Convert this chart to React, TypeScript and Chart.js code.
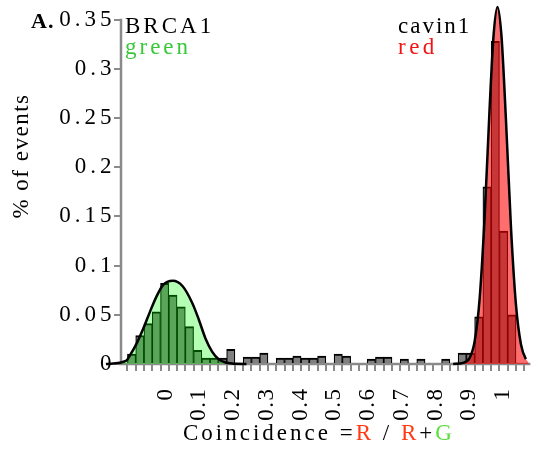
import React, { useEffect, useRef } from 'react';
import { Chart, registerables } from 'chart.js';

Chart.register(...registerables);

// ---------- data ----------
const binCenters = [
  -0.1125, -0.0875, -0.0625, -0.0375, -0.0125,
  0.0125, 0.0375, 0.0625, 0.0875, 0.1125,
  0.1375, 0.1625, 0.1875, 0.2125, 0.2375,
  0.2625, 0.2875, 0.3125, 0.3375, 0.3625,
  0.3875, 0.4125, 0.4375, 0.4625, 0.4875,
  0.5125, 0.5375, 0.5625, 0.5875, 0.6125,
  0.6375, 0.6625, 0.6875, 0.7125, 0.7375,
  0.7625, 0.7875, 0.8125, 0.8375, 0.8625,
  0.8875, 0.9125, 0.9375, 0.9625, 0.9875,
  1.0125, 1.0375,
];

const eventFraction = [
  0.010, 0.029, 0.041, 0.053, 0.082,
  0.070, 0.058, 0.038, 0.014, 0.006,
  0.006, 0.006, 0.015, 0, 0.007,
  0.007, 0.011, 0, 0.006, 0.006,
  0.008, 0.006, 0.006, 0.008, 0,
  0.010, 0.008, 0, 0, 0.005,
  0.007, 0.007, 0, 0.005, 0,
  0.005, 0, 0, 0.005, 0,
  0.011, 0.011, 0.048, 0.180, 0.328,
  0.135, 0.050,
];

const greenFitX = [-0.19, -0.128, -0.117, -0.097, -0.077, -0.057, -0.038, -0.018, 0.012, 0.042, 0.071, 0.091, 0.111, 0.131, 0.151, 0.175, 0.2, 0.235];
const greenFitY = [0, 0.0035, 0.009, 0.021, 0.036, 0.053, 0.068, 0.080, 0.0845, 0.079, 0.062, 0.045, 0.026, 0.0126, 0.0048, 0.0012, 0.0002, 0];

const redFitX = [0.86, 0.89, 0.91, 0.925, 0.94, 0.955, 0.97, 0.982, 0.994, 1.006, 1.02, 1.035, 1.05, 1.065, 1.08, 1.095, 1.125];
const redFitY = [0, 0.0012, 0.0063, 0.023, 0.066, 0.148, 0.258, 0.333, 0.363, 0.334, 0.246, 0.138, 0.06, 0.02, 0.005, 0.001, 0];

const xTickMarks = [-0.1375, ...binCenters, 1.0625];
const xTickValues = [0, 0.1, 0.2, 0.3, 0.4, 0.5, 0.6, 0.7, 0.8, 0.9, 1];
const xTickLabels = ['0', '0.1', '0.2', '0.3', '0.4', '0.5', '0.6', '0.7', '0.8', '0.9', '1'];
const yTickValues = [0, 0.05, 0.1, 0.15, 0.2, 0.25, 0.3, 0.35];
const yTickLabels = ['0', '0.05', '0.1', '0.15', '0.2', '0.25', '0.3', '0.35'];

const panelLabel = 'A.';
const yTitle = '% of events';
const greenName = 'BRCA1';
const greenWord = 'green';
const redName = 'cavin1';
const redWord = 'red';
const xTitleParts = [
  { text: 'Coincidence =', color: '#000000' },
  { text: 'R', color: '#ff3a14' },
  { text: ' / ', color: '#000000' },
  { text: 'R', color: '#ff3a14' },
  { text: '+', color: '#000000' },
  { text: 'G', color: '#5ade3c' },
];

// ---------- styling ----------
const X_MIN = -0.1319;
const X_MAX = 1.075;
const Y_MAX = 0.37;
const AXIS_GRAY = '#8a8a8a';
const SERIF = '"Liberation Serif", "Times New Roman", serif';

function spacedLabels(scale: any, spacing: string) {
  if (scale.__spaced) return;
  scale.__spaced = true;
  const orig = scale.drawLabels.bind(scale);
  scale.drawLabels = (area: any) => {
    const c = scale.ctx;
    const prev = c.letterSpacing;
    c.letterSpacing = spacing;
    orig(area);
    c.letterSpacing = prev;
  };
}

const textPlugin = {
  id: 'textAndAxes',
  beforeDraw(chart: any) {
    chart.ctx.letterSpacing = '0px';
  },
  beforeDatasetsDraw(chart: any) {
    const ctx = chart.ctx;
    const xs = chart.scales.x;
    const ys = chart.scales.y;
    const y0 = ys.getPixelForValue(0);
    const yTop = ys.getPixelForValue(yTickValues[yTickValues.length - 1]);
    ctx.save();
    ctx.strokeStyle = AXIS_GRAY;
    ctx.lineWidth = 2.5;
    ctx.beginPath();
    ctx.moveTo(xs.left - 2, y0);
    ctx.lineTo(xs.right + 2, y0);
    ctx.moveTo(xs.left, y0);
    ctx.lineTo(xs.left, yTop - 1);
    ctx.stroke();
    ctx.restore();
  },
  afterDraw(chart: any) {
    const ctx = chart.ctx;
    const area = chart.chartArea;
    ctx.save();
    ctx.textAlign = 'left';
    ctx.textBaseline = 'alphabetic';
    ctx.fillStyle = '#000';
    ctx.letterSpacing = '1px';
    ctx.font = `bold 22px ${SERIF}`;
    ctx.fillText(panelLabel, 31, 28);

    ctx.font = `23px ${SERIF}`;
    ctx.letterSpacing = '3px';
    ctx.fillText(greenName, area.left + 4, 33);
    ctx.fillStyle = '#38c838';
    ctx.fillText(greenWord, area.left + 4, 54);
    ctx.fillStyle = '#000';
    ctx.letterSpacing = '2px';
    ctx.fillText(redName, 398, 33);
    ctx.fillStyle = '#f01414';
    ctx.letterSpacing = '3.5px';
    ctx.fillText(redWord, 398, 54);

    ctx.letterSpacing = '3px';
    let x = 183;
    for (const p of xTitleParts) {
      ctx.fillStyle = p.color;
      ctx.fillText(p.text, x, 440);
      x += ctx.measureText(p.text).width;
    }

    ctx.fillStyle = '#000';
    ctx.letterSpacing = '1.5px';
    ctx.translate(28, 156);
    ctx.rotate(-Math.PI / 2);
    ctx.textAlign = 'center';
    ctx.fillText(yTitle, 0, 0);
    ctx.restore();
  },
};

export default function App() {
  const ref = useRef<HTMLCanvasElement>(null);

  useEffect(() => {
    document.body.style.margin = '0';
    const canvas = ref.current;
    if (!canvas) return;

    const tickFont = { family: SERIF, size: 23 };

    const chart = new Chart(canvas, {
      data: {
        datasets: [
          {
            type: 'line',
            label: 'green fit',
            xAxisID: 'x',
            data: greenFitX.map((v, i) => ({ x: v, y: greenFitY[i] })),
            borderColor: '#000',
            borderWidth: 2.5,
            backgroundColor: 'rgba(0,255,0,0.29)',
            fill: 'origin',
            pointRadius: 0,
            cubicInterpolationMode: 'monotone',
            clip: false,
            order: 1,
          },
          {
            type: 'line',
            label: 'red fit',
            xAxisID: 'x',
            data: redFitX.map((v, i) => ({ x: v, y: redFitY[i] })),
            borderColor: '#000',
            borderWidth: 2.5,
            backgroundColor: 'rgba(255,0,0,0.57)',
            fill: 'origin',
            pointRadius: 0,
            cubicInterpolationMode: 'monotone',
            clip: false,
            order: 1,
          },
          {
            type: 'bar',
            label: 'events',
            xAxisID: 'x',
            data: binCenters.map((v, i) => ({ x: v, y: eventFraction[i] })),
            backgroundColor: '#808080',
            borderColor: '#000',
            borderWidth: { top: 2, left: 1.2, right: 1.2, bottom: 0 },
            borderSkipped: false,
            categoryPercentage: 1,
            barPercentage: 1,
            order: 2,
          },
        ],
      } as any,
      options: {
        responsive: false,
        animation: false,
        events: [],
        layout: { padding: { left: 0, top: 0, right: 10.6, bottom: 0 } },
        plugins: { legend: { display: false }, tooltip: { enabled: false } },
        scales: {
          x: {
            type: 'linear',
            position: 'bottom',
            min: X_MIN,
            max: X_MAX,
            afterBuildTicks: (s: any) => { s.ticks = xTickMarks.map((v) => ({ value: v })); },
            afterFit: (s: any) => { s.height = 7; s.paddingLeft = 0; s.paddingRight = 0; },
            ticks: { display: false },
            grid: { display: true, drawOnChartArea: false, drawTicks: true, tickLength: 7, tickWidth: 2, tickColor: AXIS_GRAY, lineWidth: 2, color: AXIS_GRAY },
            border: { display: false },
          },
          xl: {
            type: 'linear',
            position: 'bottom',
            weight: 1,
            min: X_MIN,
            max: X_MAX,
            afterBuildTicks: (s: any) => { s.ticks = xTickValues.map((v) => ({ value: v })); },
            afterFit: (s: any) => {
              s.height = 81; s.paddingLeft = 0; s.paddingRight = 0;
              spacedLabels(s, '1.5px');
            },
            ticks: {
              display: true,
              autoSkip: false,
              minRotation: 90,
              maxRotation: 90,
              padding: 8.5,
              color: '#000',
              font: tickFont,
              callback: (_v: any, i: number) => xTickLabels[i],
            },
            grid: { display: false },
            border: { display: false },
          },
          y: {
            type: 'linear',
            position: 'left',
            min: 0,
            max: Y_MAX,
            afterBuildTicks: (s: any) => { s.ticks = yTickValues.map((v) => ({ value: v })); },
            afterFit: (s: any) => {
              s.width = 121; s.paddingTop = 0; s.paddingBottom = 0;
              spacedLabels(s, '4px');
            },
            ticks: {
              padding: -1.5,
              color: '#000',
              font: tickFont,
              callback: (_v: any, i: number) => yTickLabels[i],
            },
            grid: { display: true, drawOnChartArea: false, drawTicks: true, tickLength: 7, tickWidth: 2, tickColor: AXIS_GRAY, lineWidth: 2, color: AXIS_GRAY },
            border: { display: false },
          },
        },
      } as any,
      plugins: [textPlugin],
    });

    return () => chart.destroy();
  }, []);

  return (
    <div style={{ width: 539, height: 452 }}>
      <canvas ref={ref} width={539} height={452} style={{ display: 'block' }} />
    </div>
  );
}
